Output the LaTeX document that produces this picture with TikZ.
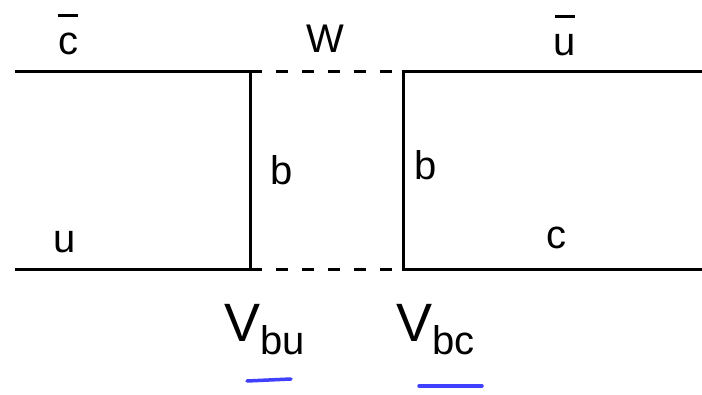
\documentclass[tikz,border=0pt]{standalone}
\usepackage{fontspec}
\setmainfont{Liberation Sans}
\newcommand{\barred}[1]{\ooalign{\hidewidth\raisebox{0.95em}{\rule{0.5em}{0.07em}}\hidewidth\cr #1}}
\begin{document}
\begin{tikzpicture}[x=1pt,y=-1pt,
  quark/.style={line width=3pt},
  wline/.style={line width=3pt,dash pattern=on 12pt off 14pt},
  lab/.style={font=\fontsize{40}{42}\selectfont,inner sep=0pt,anchor=base},
  vlab/.style={font=\fontsize{54}{56}\selectfont,inner sep=0pt,anchor=base west},
  uline/.style={line width=3.5pt,draw=blue!75!white,line cap=round}]
\useasboundingbox (0,0) rectangle (702,395);
\fill[white] (0,0) rectangle (702,395);
\coordinate (A) at (15,72);
\coordinate (B) at (250,72);
\coordinate (C) at (403,72);
\coordinate (D) at (702,72);
\coordinate (E) at (15,270);
\coordinate (F) at (250,270);
\coordinate (G) at (403,270);
\coordinate (H) at (702,270);
\draw[quark] (A) -- (B) -- (F) -- (E);
\draw[quark] (D) -- (C) -- (G) -- (H);
\draw[wline] (B) -- (C);
\draw[wline] (F) -- (G);
\node[lab] (cbar) at (68,55) {\barred{c}};
\node[lab] (w) at (325,53) {W};
\node[lab] (ubar) at (565,56) {\barred{u}};
\node[lab] (b1) at (282,185) {b};
\node[lab] (b2) at (426,180) {b};
\node[lab] (u) at (65,253) {u};
\node[lab] (c) at (556,249) {c};
\node[vlab] (vbu) at (224,342) {V\raisebox{-0.45ex}{\fontsize{40}{42}\selectfont bu}};
\node[vlab] (vbc) at (396,342) {V\raisebox{-0.45ex}{\fontsize{40}{42}\selectfont bc}};
\coordinate (u1a) at (247,381);
\coordinate (u1b) at (291,379);
\coordinate (u2a) at (419,386);
\coordinate (u2b) at (482,386);
\draw[uline] (u1a) -- (u1b);
\draw[uline] (u2a) -- (u2b);
\end{tikzpicture}
\end{document}
